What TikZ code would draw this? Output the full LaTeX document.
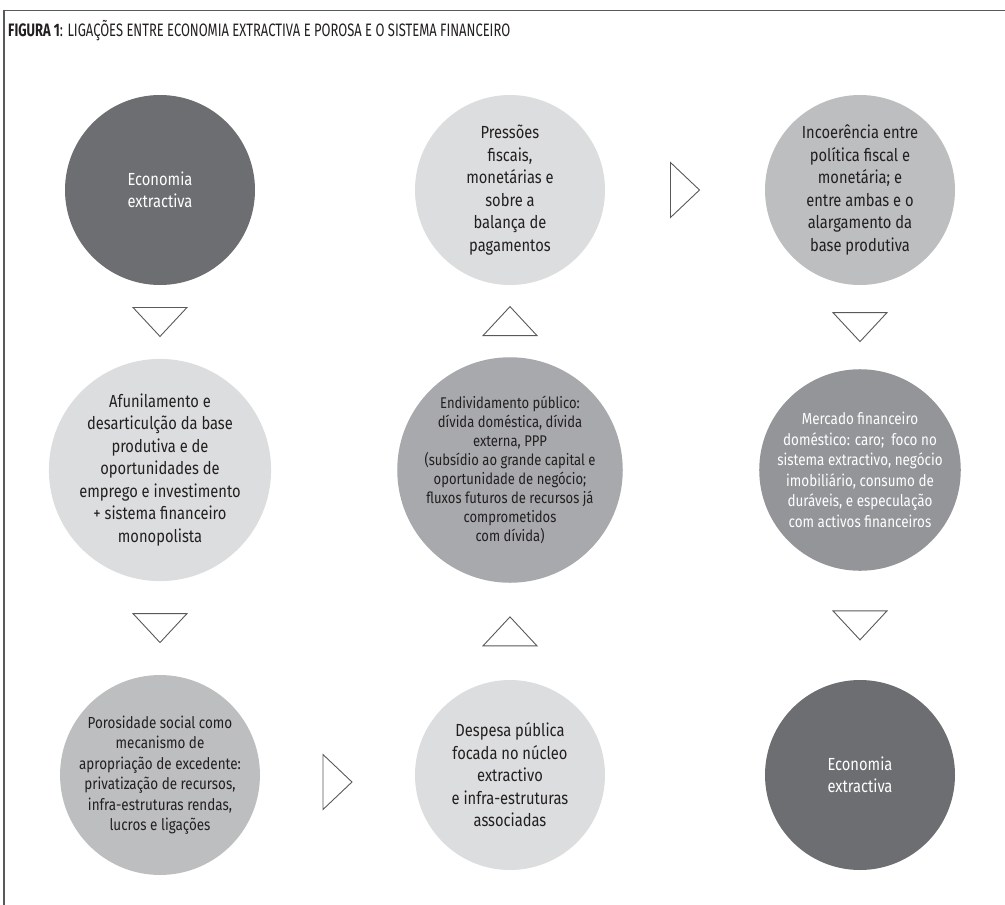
\documentclass[tikz,border=0pt]{standalone}
\usepackage{fontspec}
\setmainfont{Fira Sans}[FakeStretch=0.84]
\newfontfamily\titlefont{Fira Sans}[FakeStretch=0.72]
\usetikzlibrary{calc}

\definecolor{inkdark}{HTML}{231F20}
\definecolor{framegrey}{HTML}{58595B}
\definecolor{discdark}{HTML}{6D6E71}
\definecolor{disclight}{HTML}{DCDDDE}
\definecolor{discmid}{HTML}{BCBEC0}
\definecolor{discmiddark}{HTML}{A7A9AC}
\definecolor{discdeep}{HTML}{939598}

\tikzset{
  disc/.style={circle, draw=none, minimum size=190pt, inner sep=0pt,
    align=center, font=\fontsize{17.5}{22.5}\selectfont, text=inkdark},
  discsmall/.style={disc, font=\fontsize{15.5}{19}\selectfont},
  discmed/.style={disc, font=\fontsize{16}{20.5}\selectfont},
  onwhite/.style={text=white},
  marker/.style={draw=framegrey, line width=0.9pt, line join=miter, fill=white},
  pics/tridown/.style={code={\draw[marker] (-27,-14.5) -- (27,-14.5) -- (0,14.5) -- cycle;}},
  pics/triup/.style={code={\draw[marker] (-27,14.5) -- (27,14.5) -- (0,-14.5) -- cycle;}},
  pics/triright/.style={code={\draw[marker] (-14.5,-27.5) -- (-14.5,27.5) -- (14.5,0) -- cycle;}},
}

\begin{document}
\begin{tikzpicture}[x=1pt, y=-1pt]
\useasboundingbox (0,0) rectangle (1005,905);

% frame
\draw[framegrey, line width=1.4pt] (1005,10.5) -- (4,10.5) -- (4,905);

% title
\node[anchor=west, inner sep=0pt, text=inkdark,
      font=\titlefont\fontsize{18}{21}\selectfont] (title) at (8,31)
  {\textbf{FIGURA 1}: LIGAÇÕES ENTRE ECONOMIA EXTRACTIVA E POROSA E O SISTEMA FINANCEIRO};

% row 1
\node[disc, fill=discdark, onwhite] (ext1) at (160,190) {Economia\\extractiva};
\node[disc, fill=disclight] (press) at (510,190)
  {Pressões\\fiscais,\\monetárias e\\sobre a\\balança de\\pagamentos};
\node[disc, fill=discmid] (incoer) at (860,190)
  {Incoerência entre\\política fiscal e\\monetária; e\\entre ambas e o\\alargamento da\\base produtiva};

% row 2
\node[disc, fill=disclight] (afun) at (160,470)
  {Afunilamento e\\desarticulção da base\\produtiva e de\\oportunidades de\\emprego e investimento\\+ sistema financeiro\\monopolista};
\node[discsmall, fill=discmiddark] (endiv) at (510,470)
  {Endividamento público:\\dívida doméstica, dívida\\externa, PPP\\(subsídio ao grande capital e\\oportunidade de negócio;\\fluxos futuros de recursos já\\comprometidos\\com dívida)};
\node[discmed, fill=discdeep, onwhite] (merc) at (860,470)
  {Mercado financeiro\\doméstico: caro;\ \ foco no\\sistema extractivo, negócio\\imobiliário, consumo de\\duráveis, e especulação\\com activos financeiros};

% row 3
\node[discmed, fill=discmid] (poros) at (160,775)
  {Porosidade social como\\mecanismo de\\apropriação de excedente:\\privatização de recursos,\\infra-estruturas rendas,\\lucros e ligações};
\node[disc, fill=disclight] (desp) at (510,775)
  {Despesa pública\\focada no núcleo\\extractivo\\e infra-estruturas\\associadas};
\node[disc, fill=discdark, onwhite] (ext2) at (860,775) {Economia\\extractiva};

% direction markers between the discs
\pic at ($(ext1.south)!0.5!(afun.north)$) {tridown};
\pic at ($(afun.south)!0.5!(poros.north)$) {tridown};
\pic at ($(poros.east)!0.5!(desp.west)+(0,7)$) {triright};
\pic at ($(desp.north)!0.5!(endiv.south)$) {triup};
\pic at ($(endiv.north)!0.5!(press.south)$) {triup};
\pic at ($(press.east)!0.5!(incoer.west)$) {triright};
\pic at ($(incoer.south)!0.5!(merc.north)$) {tridown};
\pic at ($(merc.south)!0.5!(ext2.north)$) {tridown};
\end{tikzpicture}
\end{document}
